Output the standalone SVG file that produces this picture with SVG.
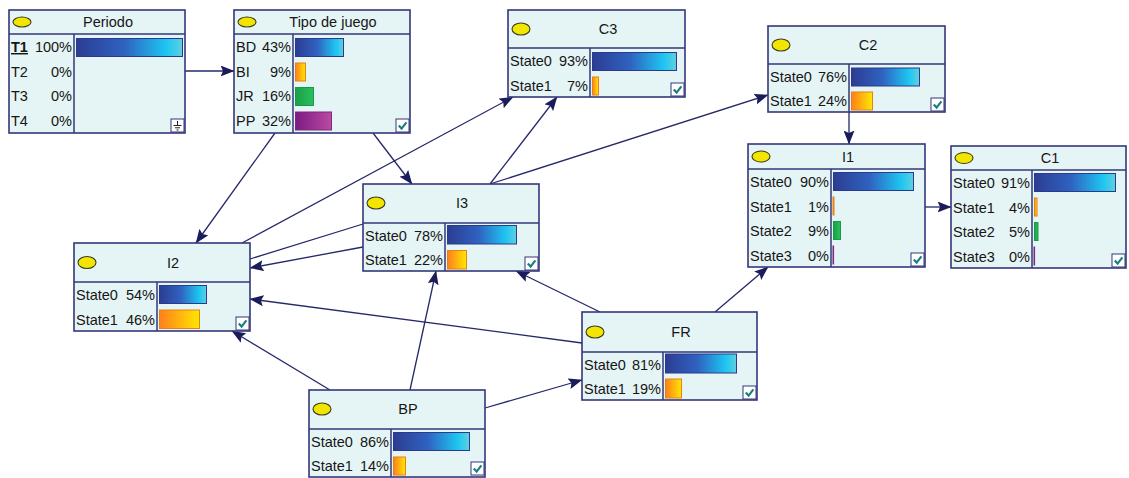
<svg xmlns="http://www.w3.org/2000/svg" width="1129" height="478" viewBox="0 0 1129 478">
  <defs>
    <style>
      .box{fill:#e5f4f5;stroke:#34377a;stroke-width:1.6}
      .sep{stroke:#34377a;stroke-width:1.5;fill:none}
      .lamp{fill:#f2e600;stroke:#3a3a20;stroke-width:1.1}
      .title{font-family:"Liberation Sans",Arial,sans-serif;font-size:14.5px;fill:#161616;text-anchor:middle}
      .lbl{font-family:"Liberation Sans",Arial,sans-serif;font-size:14.5px;fill:#161616}
      .pct{font-family:"Liberation Sans",Arial,sans-serif;font-size:14.5px;fill:#161616;text-anchor:end}
      .b0{fill:url(#gBlue);stroke:#2b3a8c;stroke-width:1}
      .b1{fill:url(#gOrange);stroke:#e8801a;stroke-width:1}
      .b2{fill:url(#gGreen);stroke:#1b9a46;stroke-width:1}
      .b3{fill:url(#gPurple);stroke:#7a2a80;stroke-width:1}
      .chk{fill:#ffffff;stroke:#34377a;stroke-width:1}
      .tick{fill:none;stroke:#1b7f7f;stroke-width:2.2}
      .edge{fill:none;stroke:#25286a;stroke-width:1.3;marker-end:url(#head)}
      .edge.plain{marker-end:none}
    </style>
    <linearGradient id="gBlue" x1="0" y1="0" x2="1" y2="0">
      <stop offset="0" stop-color="#2c3d92"/>
      <stop offset="0.45" stop-color="#2f62c0"/>
      <stop offset="0.85" stop-color="#1ec6f2"/>
      <stop offset="1" stop-color="#62cfdf"/>
    </linearGradient>
    <linearGradient id="gOrange" x1="0" y1="0" x2="1" y2="0">
      <stop offset="0" stop-color="#ff7f1c"/>
      <stop offset="1" stop-color="#ffe800"/>
    </linearGradient>
    <linearGradient id="gGreen" x1="0" y1="0" x2="1" y2="0">
      <stop offset="0" stop-color="#17a04a"/>
      <stop offset="1" stop-color="#2cc05c"/>
    </linearGradient>
    <linearGradient id="gPurple" x1="0" y1="0" x2="1" y2="0">
      <stop offset="0" stop-color="#7d1a82"/>
      <stop offset="1" stop-color="#bb4aa2"/>
    </linearGradient>
    <marker id="head" viewBox="0 0 14 11" refX="13.5" refY="5.5" markerWidth="14" markerHeight="11" markerUnits="userSpaceOnUse" orient="auto">
      <path d="M0,0 L14,5.5 L0,11 L2.5,5.5 z" fill="#1a1d5a"/>
    </marker>
    <!-- checkbox used in the corner of each node -->
    <g id="check">
      <rect class="chk" x="0" y="0" width="13" height="13"/>
      <path class="tick" d="M2.8,6.5 L5.6,9.6 L10.4,3.4"/>
    </g>
  </defs>

  <!-- links between nodes -->
  <g id="connectors">
    <path class="edge" d="M185,71 L234,71"/>
    <path class="edge" d="M275,133 L196,243"/>
    <path class="edge" d="M373,133 L412,184"/>
    <path class="edge" d="M242,243 L513,97"/>
    <path class="edge" d="M490,184 L557,97"/>
    <path class="edge" d="M490,184 L768,95"/>
    <path class="edge" d="M849,112 L849,144"/>
    <path class="edge" d="M925,207 L951,207"/>
    <path class="edge plain" d="M363,224 L250,259"/>
    <path class="edge" d="M363,247 L250,268"/>
    <path class="edge" d="M582,343 L250,299"/>
    <path class="edge" d="M600,312 L516,271"/>
    <path class="edge" d="M715,312 L768,267"/>
    <path class="edge" d="M330,390 L232,331"/>
    <path class="edge" d="M410,390 L436,271"/>
    <path class="edge" d="M485,408 L582,380"/>
  </g>

  <!-- Periodo -->
  <g id="node-periodo" transform="translate(9,10)">
    <rect class="box" x="0" y="0" width="176" height="123"/>
    <path class="sep" d="M0,24 H176 M65,24 V123"/>
    <ellipse class="lamp" cx="13" cy="12" rx="9" ry="5"/>
    <text class="title" x="99" y="17">Periodo</text>
    <text class="lbl" x="2" y="42" font-weight="bold" text-decoration="underline">T1</text>
    <text class="pct" x="63" y="42">100%</text>
    <text class="lbl" x="2" y="66.5">T2</text>
    <text class="pct" x="63" y="66.5">0%</text>
    <text class="lbl" x="2" y="91">T3</text>
    <text class="pct" x="63" y="91">0%</text>
    <text class="lbl" x="2" y="116">T4</text>
    <text class="pct" x="63" y="116">0%</text>
    <rect class="b0" x="67.5" y="28.5" width="106" height="18"/>
    <g transform="translate(162,109)">
      <rect class="chk" x="0" y="0" width="13" height="13"/>
      <path d="M6.5,2 V6.5 M2.5,6.5 H10.5 M4,8.8 H9 M5.5,11 H7.5" stroke="#222" stroke-width="1" fill="none"/>
    </g>
  </g>

  <!-- Tipo de juego -->
  <g id="node-tipo" transform="translate(234,10)">
    <rect class="box" x="0" y="0" width="176" height="123"/>
    <path class="sep" d="M0,24 H176 M59,24 V123"/>
    <ellipse class="lamp" cx="13" cy="12" rx="9" ry="5"/>
    <text class="title" x="99" y="17">Tipo de juego</text>
    <text class="lbl" x="2" y="42">BD</text>
    <text class="pct" x="57" y="42">43%</text>
    <text class="lbl" x="2" y="66.5">BI</text>
    <text class="pct" x="57" y="66.5">9%</text>
    <text class="lbl" x="2" y="91">JR</text>
    <text class="pct" x="57" y="91">16%</text>
    <text class="lbl" x="2" y="116">PP</text>
    <text class="pct" x="57" y="116">32%</text>
    <rect class="b0" x="61.5" y="28.5" width="48" height="18"/>
    <rect class="b1" x="61.5" y="53" width="10" height="18"/>
    <rect class="b2" x="61.5" y="77.5" width="18" height="18"/>
    <rect class="b3" x="61.5" y="102" width="36" height="18"/>
    <use href="#check" x="162" y="109"/>
  </g>

  <!-- C3 -->
  <g id="node-c3" transform="translate(508,10)">
    <rect class="box" x="0" y="0" width="177" height="87"/>
    <path class="sep" d="M0,38 H177 M82,38 V87"/>
    <ellipse class="lamp" cx="13" cy="19" rx="9" ry="6"/>
    <text class="title" x="100" y="24">C3</text>
    <text class="lbl" x="2" y="56">State0</text>
    <text class="pct" x="80" y="56">93%</text>
    <text class="lbl" x="2" y="80.5">State1</text>
    <text class="pct" x="80" y="80.5">7%</text>
    <rect class="b0" x="84.5" y="42.5" width="84" height="18"/>
    <rect class="b1" x="84.5" y="67" width="6" height="18"/>
    <use href="#check" x="163" y="73"/>
  </g>

  <!-- C2 -->
  <g id="node-c2" transform="translate(768,26)">
    <rect class="box" x="0" y="0" width="177" height="86"/>
    <path class="sep" d="M0,38 H177 M81,38 V86"/>
    <ellipse class="lamp" cx="13" cy="19" rx="9" ry="6"/>
    <text class="title" x="100" y="24">C2</text>
    <text class="lbl" x="2" y="56">State0</text>
    <text class="pct" x="79" y="56">76%</text>
    <text class="lbl" x="2" y="80">State1</text>
    <text class="pct" x="79" y="80">24%</text>
    <rect class="b0" x="83.5" y="42" width="68" height="18"/>
    <rect class="b1" x="83.5" y="66" width="21" height="18"/>
    <use href="#check" x="163" y="72"/>
  </g>

  <!-- I1 -->
  <g id="node-i1" transform="translate(748,144)">
    <rect class="box" x="0" y="0" width="177" height="123"/>
    <path class="sep" d="M0,25 H177 M83,25 V123"/>
    <ellipse class="lamp" cx="13" cy="12.5" rx="9" ry="5.5"/>
    <text class="title" x="100" y="18">I1</text>
    <text class="lbl" x="2" y="43">State0</text>
    <text class="pct" x="81" y="43">90%</text>
    <text class="lbl" x="2" y="67.5">State1</text>
    <text class="pct" x="81" y="67.5">1%</text>
    <text class="lbl" x="2" y="92">State2</text>
    <text class="pct" x="81" y="92">9%</text>
    <text class="lbl" x="2" y="116.5">State3</text>
    <text class="pct" x="81" y="116.5">0%</text>
    <rect class="b0" x="85.5" y="28.5" width="80" height="18"/>
    <rect class="b1" x="85" y="53" width="1" height="18"/>
    <rect class="b2" x="85.5" y="77.5" width="7" height="18"/>
    <rect class="b3" x="85" y="102" width="0.6" height="18"/>
    <use href="#check" x="163" y="109"/>
  </g>

  <!-- C1 -->
  <g id="node-c1" transform="translate(951,146)">
    <rect class="box" x="0" y="0" width="175" height="122"/>
    <path class="sep" d="M0,24 H175 M81,24 V122"/>
    <ellipse class="lamp" cx="13" cy="12" rx="9" ry="5.5"/>
    <text class="title" x="99" y="17">C1</text>
    <text class="lbl" x="2" y="42">State0</text>
    <text class="pct" x="79" y="42">91%</text>
    <text class="lbl" x="2" y="66.5">State1</text>
    <text class="pct" x="79" y="66.5">4%</text>
    <text class="lbl" x="2" y="91">State2</text>
    <text class="pct" x="79" y="91">5%</text>
    <text class="lbl" x="2" y="115.5">State3</text>
    <text class="pct" x="79" y="115.5">0%</text>
    <rect class="b0" x="83.5" y="27.5" width="81" height="18"/>
    <rect class="b1" x="83.5" y="52" width="2.5" height="18"/>
    <rect class="b2" x="83.5" y="76.5" width="3.5" height="18"/>
    <rect class="b3" x="83" y="101" width="0.6" height="18"/>
    <use href="#check" x="161" y="108"/>
  </g>

  <!-- I2 -->
  <g id="node-i2" transform="translate(74,243)">
    <rect class="box" x="0" y="0" width="176" height="88"/>
    <path class="sep" d="M0,39 H176 M83,39 V88"/>
    <ellipse class="lamp" cx="13" cy="19.5" rx="9" ry="6"/>
    <text class="title" x="99" y="24.5">I2</text>
    <text class="lbl" x="2" y="57">State0</text>
    <text class="pct" x="81" y="57">54%</text>
    <text class="lbl" x="2" y="81.5">State1</text>
    <text class="pct" x="81" y="81.5">46%</text>
    <rect class="b0" x="85.5" y="42.5" width="47" height="18"/>
    <rect class="b1" x="85.5" y="67" width="40" height="18.5"/>
    <use href="#check" x="162" y="74"/>
  </g>

  <!-- I3 -->
  <g id="node-i3" transform="translate(363,184)">
    <rect class="box" x="0" y="0" width="176" height="87"/>
    <path class="sep" d="M0,39 H176 M82,39 V87"/>
    <ellipse class="lamp" cx="13" cy="19" rx="9" ry="6"/>
    <text class="title" x="99" y="24">I3</text>
    <text class="lbl" x="2" y="57">State0</text>
    <text class="pct" x="80" y="57">78%</text>
    <text class="lbl" x="2" y="81">State1</text>
    <text class="pct" x="80" y="81">22%</text>
    <rect class="b0" x="84.5" y="41.5" width="69" height="18.5"/>
    <rect class="b1" x="84.5" y="66.5" width="19" height="18.5"/>
    <use href="#check" x="162" y="73"/>
  </g>

  <!-- FR -->
  <g id="node-fr" transform="translate(582,312)">
    <rect class="box" x="0" y="0" width="175" height="88"/>
    <path class="sep" d="M0,40 H175 M81,40 V88"/>
    <ellipse class="lamp" cx="13" cy="20" rx="9" ry="6"/>
    <text class="title" x="99" y="25">FR</text>
    <text class="lbl" x="2" y="57.5">State0</text>
    <text class="pct" x="79" y="57.5">81%</text>
    <text class="lbl" x="2" y="82">State1</text>
    <text class="pct" x="79" y="82">19%</text>
    <rect class="b0" x="83.5" y="42" width="71" height="19"/>
    <rect class="b1" x="83.5" y="67" width="16" height="19"/>
    <use href="#check" x="161" y="74"/>
  </g>

  <!-- BP -->
  <g id="node-bp" transform="translate(309,390)">
    <rect class="box" x="0" y="0" width="176" height="87"/>
    <path class="sep" d="M0,39 H176 M82,39 V87"/>
    <ellipse class="lamp" cx="13" cy="19" rx="9" ry="6"/>
    <text class="title" x="99" y="24">BP</text>
    <text class="lbl" x="2" y="57">State0</text>
    <text class="pct" x="80" y="57">86%</text>
    <text class="lbl" x="2" y="81">State1</text>
    <text class="pct" x="80" y="81">14%</text>
    <rect class="b0" x="84.5" y="42.5" width="76" height="18"/>
    <rect class="b1" x="84.5" y="67" width="12" height="18"/>
    <use href="#check" x="162" y="72"/>
  </g>
</svg>
